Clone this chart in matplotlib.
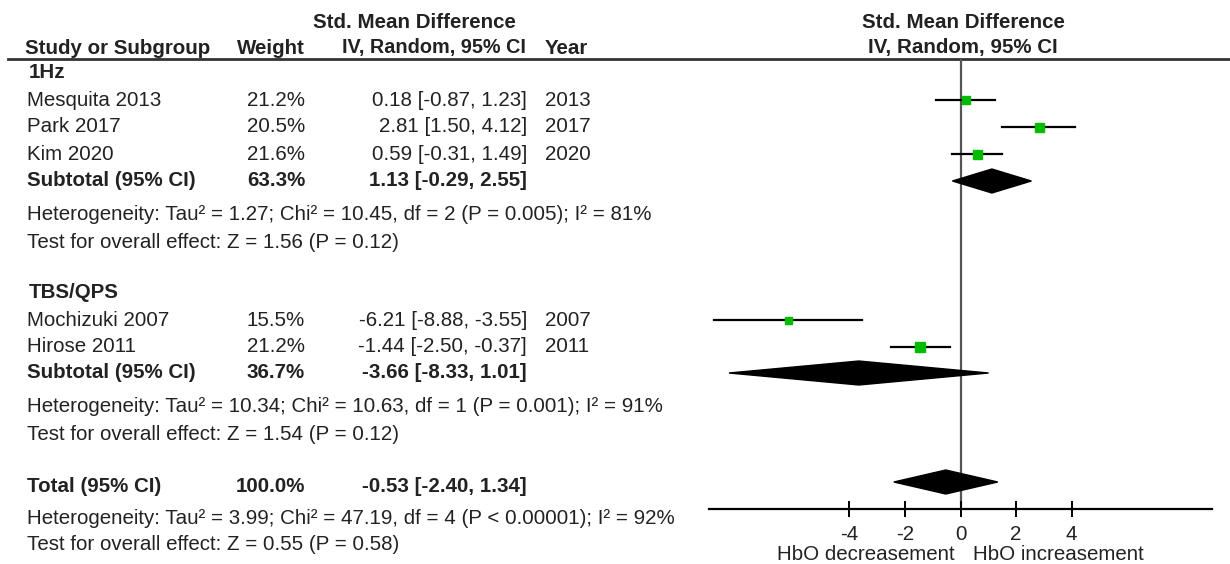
import matplotlib.pyplot as plt
from matplotlib.patches import Polygon

plt.rcParams['font.family'] = ['Liberation Sans', 'DejaVu Sans']

# study level data
studies = ['Mesquita 2013', 'Park 2017', 'Kim 2020', 'Mochizuki 2007', 'Hirose 2011']
weights = ['21.2%', '20.5%', '21.6%', '15.5%', '21.2%']
smd = [0.18, 2.81, 0.59, -6.21, -1.44]
ci_lo = [-0.87, 1.50, -0.31, -8.88, -2.50]
ci_hi = [1.23, 4.12, 1.49, -3.55, -0.37]
years = ['2013', '2017', '2020', '2007', '2011']

# subgroups
groups = ['1Hz', 'TBS/QPS']
sub_weight = ['63.3%', '36.7%']
sub_est = [1.13, -3.66]
sub_lo = [-0.29, -8.33]
sub_hi = [2.55, 1.01]
sub_het = ['Heterogeneity: Tau\u00b2 = 1.27; Chi\u00b2 = 10.45, df = 2 (P = 0.005); I\u00b2 = 81%',
           'Heterogeneity: Tau\u00b2 = 10.34; Chi\u00b2 = 10.63, df = 1 (P = 0.001); I\u00b2 = 91%']
sub_test = ['Test for overall effect: Z = 1.56 (P = 0.12)',
            'Test for overall effect: Z = 1.54 (P = 0.12)']

# overall
total_weight = '100.0%'
total_est = -0.53
total_lo = -2.40
total_hi = 1.34
total_het = 'Heterogeneity: Tau\u00b2 = 3.99; Chi\u00b2 = 47.19, df = 4 (P < 0.00001); I\u00b2 = 92%'
total_test = 'Test for overall effect: Z = 0.55 (P = 0.58)'

xticks = [-4, -2, 0, 2, 4]
left_label = 'HbO decreasement'
right_label = 'HbO increasement'

# layout (pixel rows / columns)
study_rows = [100, 127, 154, 320, 347]
group_rows = [72, 293]
sub_rows = [181, 373]
het_rows = [214, 406]
test_rows = [242, 434]
total_row = 482
square_px = [8, 9, 9, 7, 10]
TXT = '#222222'
FS = 14.8

fig = plt.figure(figsize=(12.3, 5.64), dpi=100)
tx = fig.add_axes([0, 0, 1, 1])
tx.set_xlim(0, 1230)
tx.set_ylim(564, 0)
tx.axis('off')


def put(x, y, s, bold=False, ha='left', size=FS):
    tx.text(x, y, s, fontsize=size, color=TXT, ha=ha, va='center',
            fontweight='bold' if bold else 'normal')


# headers
put(414, 22, 'Std. Mean Difference', bold=True, ha='center')
put(25, 48, 'Study or Subgroup', bold=True)
put(305, 48, 'Weight', bold=True, ha='right')
put(526, 48, 'IV, Random, 95% CI', bold=True, ha='right', size=14.3)
put(545, 48, 'Year', bold=True)
put(963, 22, 'Std. Mean Difference', bold=True, ha='center')
put(963, 48, 'IV, Random, 95% CI', bold=True, ha='center')
tx.plot([8, 1230], [59, 59], color='#333333', lw=2)

for g in range(len(groups)):
    put(29, group_rows[g], groups[g], bold=True)
    put(27, sub_rows[g], 'Subtotal (95% CI)', bold=True)
    put(305, sub_rows[g], sub_weight[g], bold=True, ha='right')
    put(527, sub_rows[g], f'{sub_est[g]:.2f} [{sub_lo[g]:.2f}, {sub_hi[g]:.2f}]',
        bold=True, ha='right')
    put(27, het_rows[g], sub_het[g])
    put(27, test_rows[g], sub_test[g])

for i in range(len(studies)):
    put(27, study_rows[i], studies[i])
    put(305, study_rows[i], weights[i], ha='right')
    put(527, study_rows[i], f'{smd[i]:.2f} [{ci_lo[i]:.2f}, {ci_hi[i]:.2f}]', ha='right')
    put(545, study_rows[i], years[i])

put(27, 487, 'Total (95% CI)', bold=True)
put(305, 487, total_weight, bold=True, ha='right')
put(527, 487, f'{total_est:.2f} [{total_lo:.2f}, {total_hi:.2f}]', bold=True, ha='right')
put(27, 518, total_het)
put(27, 545, total_test)

put(955, 554, left_label, ha='right')
put(973, 554, right_label)

# forest panel, y in pixel rows
ax = fig.add_axes([709 / 1230, (564 - 509) / 564, 503 / 1230, 450 / 564])
ax.set_xlim(-9.05, 9.05)
ax.set_ylim(509, 59)
ax.patch.set_visible(False)
for s in ['top', 'left', 'right']:
    ax.spines[s].set_visible(False)
ax.spines['bottom'].set_linewidth(1.6)
ax.set_yticks([])
ax.set_xticks(xticks)
ax.set_xticklabels([str(t) for t in xticks])
ax.tick_params(axis='x', direction='inout', length=11, width=1.4,
               labelsize=FS, labelcolor=TXT, pad=6)
ax.axvline(0, color='#555555', lw=1.6, zorder=1)

for i in range(len(studies)):
    ax.plot([ci_lo[i], ci_hi[i]], [study_rows[i]] * 2, color='black', lw=1.6, zorder=2)
    ax.plot(smd[i], study_rows[i], marker='s', color='#00bb00', mec='#00bb00',
            ms=square_px[i] * 0.72, zorder=3)


def diamond(lo, est, hi, y, h=12):
    ax.add_patch(Polygon([(lo, y), (est, y - h), (hi, y), (est, y + h)],
                         closed=True, fc='black', ec='black', zorder=3))


for g in range(len(groups)):
    diamond(sub_lo[g], sub_est[g], sub_hi[g], sub_rows[g])
diamond(total_lo, total_est, total_hi, total_row)

fig.savefig('out.png', dpi=100)
